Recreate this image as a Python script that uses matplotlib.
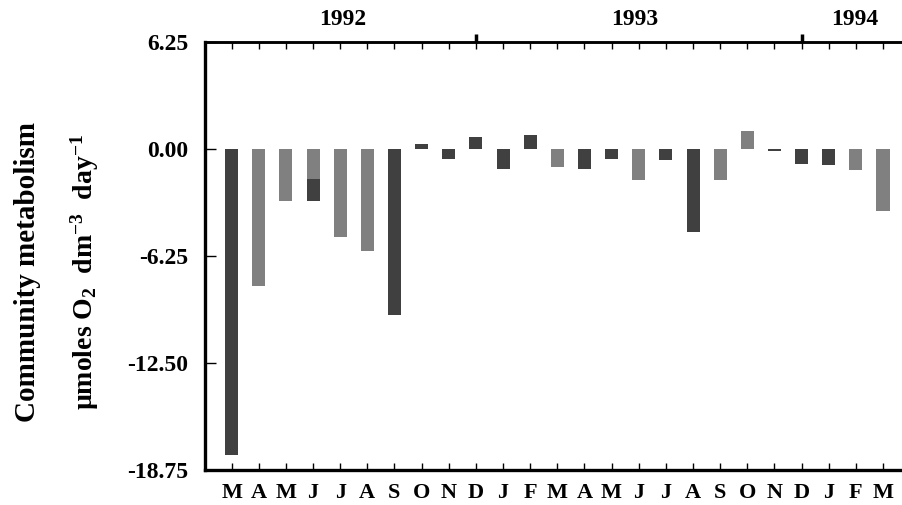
import matplotlib
matplotlib.use("Agg")
import matplotlib.pyplot as plt
from matplotlib.ticker import FixedLocator, NullFormatter

months = ["M", "A", "M", "J", "J", "A", "S", "O", "N", "D", "J", "F",
          "M", "A", "M", "J", "J", "A", "S", "O", "N", "D", "J", "F", "M"]
# dark (respiration-dominated) and gray bar values, umol O2 dm-3 day-1
dark_vals = [-17.9, 0, 0, -3.05, 0, 0, -9.7, 0.3, -0.6, 0.7, -1.15, 0.8,
             0, -1.15, -0.6, 0, -0.65, -4.85, 0, 0, -0.1, -0.85, -0.95, 0, 0]
gray_vals = [0, -8.0, -3.05, -1.75, -5.15, -5.95, 0, 0, 0, 0, 0, 0,
             -1.05, 0, 0, -1.8, 0, 0, -1.8, 1.05, 0, 0, 0, -1.2, -3.6]
yticks = [6.25, 0.00, -6.25, -12.50, -18.75]
years = ["1992", "1993", "1994"]
year_pos = [4.1, 14.85, 22.95]
year_dividers = [9, 21]

serif = ["Liberation Serif", "DejaVu Serif"]
plt.rcParams["font.family"] = serif
plt.rcParams["font.weight"] = "bold"
plt.rcParams["mathtext.fontset"] = "custom"
plt.rcParams["mathtext.rm"] = "Liberation Serif:bold"
plt.rcParams["mathtext.bf"] = "Liberation Serif:bold"
plt.rcParams["mathtext.it"] = "Liberation Serif:bold"
plt.rcParams["mathtext.default"] = "rm"

fig = plt.figure(figsize=(9.02, 5.05), dpi=100)
ax = fig.add_axes([0.2273, 0.0693, 0.7727, 0.8475])

x = list(range(len(months)))
ax.bar(x, dark_vals, width=0.48, color="#404040", edgecolor="none", zorder=2)
ax.bar(x, gray_vals, width=0.48, color="#808080", edgecolor="none", zorder=3)

ax.set_xlim(-0.98, 24.7)
ax.set_ylim(-18.75, 6.25)
ax.set_yticks(yticks)
ax.set_yticklabels([f"{v:.2f}" for v in yticks], fontsize=17, fontweight="bold")
ax.set_xticks(x)
ax.set_xticklabels(months, fontsize=16, fontweight="bold")

ax.tick_params(axis="x", which="major", direction="in", top=True, bottom=True,
               length=5, width=1.0, pad=9)
ax.tick_params(axis="y", which="major", direction="in", left=True, right=False,
               length=8, width=1.0, pad=12)

ax.spines["right"].set_visible(False)
ax.spines["left"].set_linewidth(2.4)
ax.spines["bottom"].set_linewidth(2.4)
ax.spines["top"].set_linewidth(1.8)

sec = ax.secondary_xaxis("top")
sec.xaxis.set_major_locator(FixedLocator(year_dividers))
sec.xaxis.set_major_formatter(NullFormatter())
sec.set_xticks(year_pos, labels=years, minor=True)
sec.tick_params(which="major", direction="out", length=6, width=2.5)
sec.tick_params(which="minor", length=0, pad=9, labelsize=17)
for lab in sec.get_xticklabels(minor=True):
    lab.set_fontweight("bold")
sec.spines["top"].set_linewidth(1.8)

fig.text(0.031, 0.462, "Community metabolism", rotation=90, ha="center",
         va="center", fontsize=21, fontweight="bold")
fig.text(0.094, 0.462, "\u00b5moles O$_2$  dm$^{-3}$  day$^{-1}$",
         rotation=90, ha="center", va="center", fontsize=20, fontweight="bold")

fig.savefig("out.png", dpi=100)
